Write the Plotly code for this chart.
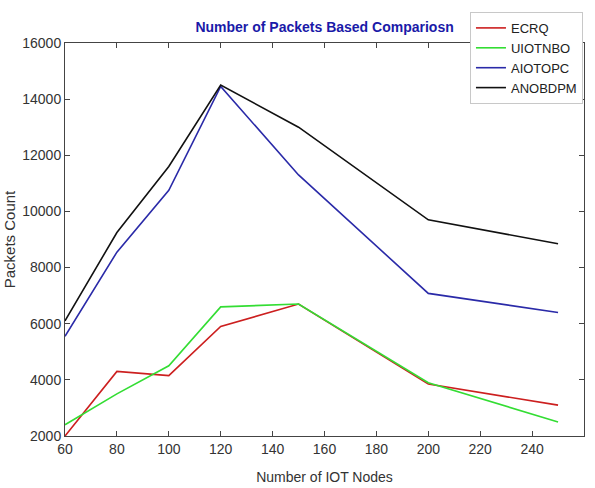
import plotly.graph_objects as go

nodes = [60, 80, 100, 120, 150, 200, 250]
series_names = ["ECRQ", "UIOTNBO", "AIOTOPC", "ANOBDPM"]
ecrq = [2000, 4300, 4150, 5900, 6700, 3850, 3100]
uiotnbo = [2400, 3500, 4500, 6600, 6700, 3900, 2500]
aiotopc = [5550, 8550, 10750, 14450, 11300, 7080, 6400]
anobdpm = [6100, 9250, 11600, 14500, 13000, 9700, 8850]
colors = ["#CC1F1F", "#33DD33", "#2A2AA8", "#111111"]

x_ticks = [60, 80, 100, 120, 140, 160, 180, 200, 220, 240, 260]
y_ticks = [2000, 4000, 6000, 8000, 10000, 12000, 14000, 16000]
y_tick_labels = ["2000", "4000", "6000", "8000", "10000", "12000", "14000", "16000"]

FONT = "Liberation Sans, Arial, sans-serif"

fig = go.Figure()
for name, vals, col in zip(series_names, [ecrq, uiotnbo, aiotopc, anobdpm], colors):
    fig.add_trace(go.Scatter(x=nodes, y=vals, mode="lines", name=name,
                             line=dict(color=col, width=1.6)))

fig.update_layout(
    width=595, height=488,
    margin=dict(l=65, r=11, t=43, b=52),
    paper_bgcolor="white", plot_bgcolor="white",
    font=dict(family=FONT, size=14, color="#333333"),
    title=dict(text="<b>Number of Packets Based Compariosn</b>",
               x=0.5455, xanchor="center", y=0.945, yanchor="middle",
               font=dict(family=FONT, size=14, color="#1a1aa8")),
    showlegend=True,
    legend=dict(x=0.998, xanchor="right", y=1.079, yanchor="top",
                bgcolor="white", bordercolor="#c8c8c8", borderwidth=1,
                font=dict(family=FONT, size=13, color="#222222"),
                itemwidth=30, tracegroupgap=0),
    xaxis=dict(range=[60, 260], tickvals=x_ticks, ticks="inside", ticklen=5,
               showline=True, linecolor="#444444", linewidth=1, mirror="ticks",
               showgrid=False, zeroline=False, tickcolor="#444444",
               automargin=False,
               tickfont=dict(family=FONT, size=14, color="#333333"),
               title=dict(text="Number of IOT Nodes", standoff=16,
                          font=dict(family=FONT, size=14, color="#333333"))),
    yaxis=dict(range=[2000, 16000], tickvals=y_ticks, ticktext=y_tick_labels,
               ticks="inside", ticklen=5, automargin=False,
               showline=True, linecolor="#444444", linewidth=1, mirror="ticks",
               showgrid=False, zeroline=False, tickcolor="#444444",
               tickfont=dict(family=FONT, size=14, color="#333333"),
               title=dict(text="Packets Count", standoff=3,
                          font=dict(family=FONT, size=15, color="#333333"))),
)

fig.write_html("out.html")
